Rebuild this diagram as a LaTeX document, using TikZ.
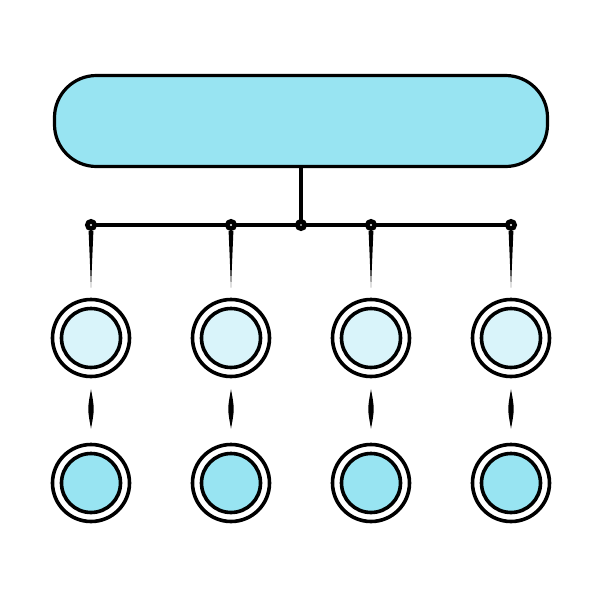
\documentclass[tikz,border=0pt]{standalone}
\usetikzlibrary{calc}
\definecolor{cyanA}{HTML}{98E4F2}
\definecolor{cyanB}{HTML}{D9F4FA}
\begin{document}
\begin{tikzpicture}[x=1pt,y=-1pt,
  topbox/.style={draw, line width=3.2pt, fill=cyanA, rounded corners=42pt, minimum width=493pt, minimum height=91pt, inner sep=0pt},
  joint/.style={circle, draw, line width=2.6pt, fill=black, inner sep=0pt, minimum size=9.5pt},
  ring/.style={circle, draw, line width=3.6pt, fill=white, inner sep=0pt, minimum size=77pt},
  coreA/.style={circle, draw, line width=3.6pt, fill=cyanB, inner sep=0pt, minimum size=59pt},
  coreB/.style={circle, draw, line width=3.6pt, fill=cyanA, inner sep=0pt, minimum size=59pt},
  bar/.style={line width=3.5pt}]
\useasboundingbox (0,0) rectangle (600,600);
\node[topbox] (top) at (301,121) {};
% bus
\coordinate (b1) at (91,225);
\coordinate (b5) at (511,225);
\draw[bar] (b1) -- (b5);
\draw[bar] (top.south) -- (301,225);
\foreach \i/\x in {1/91,2/231,4/371,5/511}{
  \node[joint] (d\i) at (\x,225) {};
  \fill[white] (d\i) circle (1.2pt);
}
\node[joint] (d3) at (301,225) {};
\fill[white] (d3) circle (0.9pt);
% circles
\foreach \i/\x in {1/91,2/231,4/371,5/511}{
  \node[ring] (r\i) at (\x,338) {};
  \node[coreA] (c\i) at (\x,338) {};
  \node[ring] (s\i) at (\x,483) {};
  \node[coreB] (e\i) at (\x,483) {};
  % tapered drop from joint
  \fill ($(d\i.south)+(-2.4,0)$) -- ($(d\i.south)+(2.4,0)$) -- ($(r\i.north)+(0,-10)$) -- cycle;
  % lens between rows
  \coordinate (la\i) at ($(r\i.south)+(0,11)$);
  \coordinate (lb\i) at ($(s\i.north)+(0,-14)$);
  \fill (la\i) .. controls ($(la\i)!0.5!(lb\i)+(3.6,0)$) .. (lb\i)
        .. controls ($(la\i)!0.5!(lb\i)+(-3.6,0)$) .. (la\i);
}
\end{tikzpicture}
\end{document}
